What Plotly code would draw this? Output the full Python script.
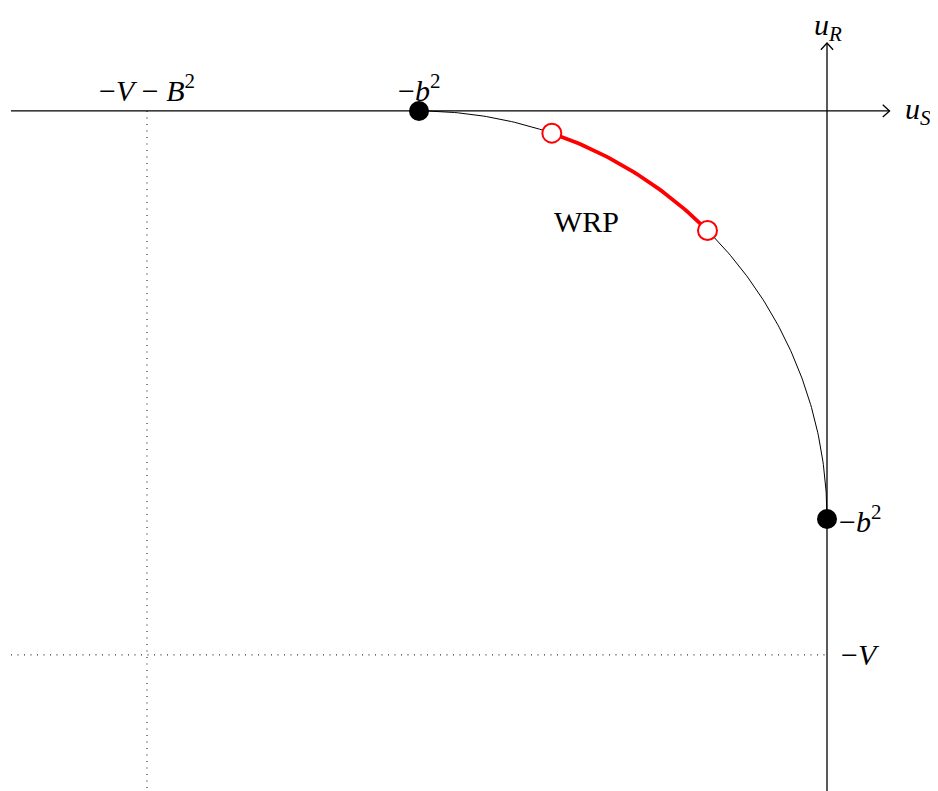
import numpy as np
import plotly.graph_objects as go

# model parameters (units in the u_S / u_R plane)
b2 = 3.0
V = 4.0
B2 = 1.0
wrp_angles = [45, 71]          # degrees along the circle, WRP arc
x_range = [-6.022, 0.875]
y_range = [-5.059, 0.757]

FONT = "Liberation Serif"

# the quarter circle centred at (-b^2, -b^2)
theta = np.radians(np.linspace(0, 90, 200))
cx, cy = -b2, -b2
circ_x = cx + b2 * np.cos(theta)
circ_y = cy + b2 * np.sin(theta)

t_red = np.radians(np.linspace(wrp_angles[0], wrp_angles[1], 60))
red_x = cx + b2 * np.cos(t_red)
red_y = cy + b2 * np.sin(t_red)
ends_t = np.radians(wrp_angles)
ends_x = cx + b2 * np.cos(ends_t)
ends_y = cy + b2 * np.sin(ends_t)

fig = go.Figure()

# dotted guides
dots = dict(color="#333", width=1.2, dash="1px,5.5px")
fig.add_trace(go.Scatter(x=[-V - B2, -V - B2], y=[0, y_range[0]], mode="lines", line=dots))
fig.add_trace(go.Scatter(x=[-6.0, 0], y=[-V, -V], mode="lines", line=dots))

# axes
axis = dict(color="black", width=1.3)
fig.add_trace(go.Scatter(x=[-6.0, 0.46], y=[0, 0], mode="lines", line=axis))
fig.add_trace(go.Scatter(x=[0, 0], y=[y_range[0], 0.5], mode="lines", line=axis))
# arrow heads
ah = 0.05
fig.add_trace(go.Scatter(x=[0.46 - ah, 0.46, 0.46 - ah], y=[ah * 0.9, 0, -ah * 0.9],
                         mode="lines", line=axis))
fig.add_trace(go.Scatter(x=[-ah * 0.9, 0, ah * 0.9], y=[0.5 - ah, 0.5, 0.5 - ah],
                         mode="lines", line=axis))

# circle and WRP arc
fig.add_trace(go.Scatter(x=circ_x, y=circ_y, mode="lines",
                         line=dict(color="black", width=1)))
fig.add_trace(go.Scatter(x=red_x, y=red_y, mode="lines",
                         line=dict(color="red", width=3.8)))
fig.add_trace(go.Scatter(x=[-b2, 0], y=[0, -b2], mode="markers",
                         marker=dict(color="black", size=20)))
fig.add_trace(go.Scatter(x=ends_x, y=ends_y, mode="markers",
                         marker=dict(color="white", size=19,
                                     line=dict(color="red", width=2))))

labels = [
    (-V - B2, 0.17, "\u2212<i>V</i> \u2212 <i>B</i><sup>2</sup>", "center"),
    (-b2, 0.17, "\u2212<i>b</i><sup>2</sup>", "center"),
    (-1.77, -0.816, "WRP", "center"),
    (0.07, -b2, "\u2212<i>b</i><sup>2</sup>", "left"),
    (0.09, -V, "\u2212<i>V</i>", "left"),
    (0.56, 0, "<i>u<sub>S</sub></i>", "left"),
    (0.01, 0.62, "<i>u<sub>R</sub></i>", "center"),
]
for x, y, txt, anchor in labels:
    fig.add_annotation(x=x, y=y, text=txt, showarrow=False, xanchor=anchor,
                       yanchor="middle", font=dict(family=FONT, size=30, color="black"))

fig.update_layout(
    width=938, height=791,
    margin=dict(l=0, r=0, t=0, b=0),
    plot_bgcolor="white", paper_bgcolor="white",
    showlegend=False,
)
fig.update_xaxes(range=x_range, visible=False)
fig.update_yaxes(range=y_range, visible=False)

fig.write_html("out.html")
